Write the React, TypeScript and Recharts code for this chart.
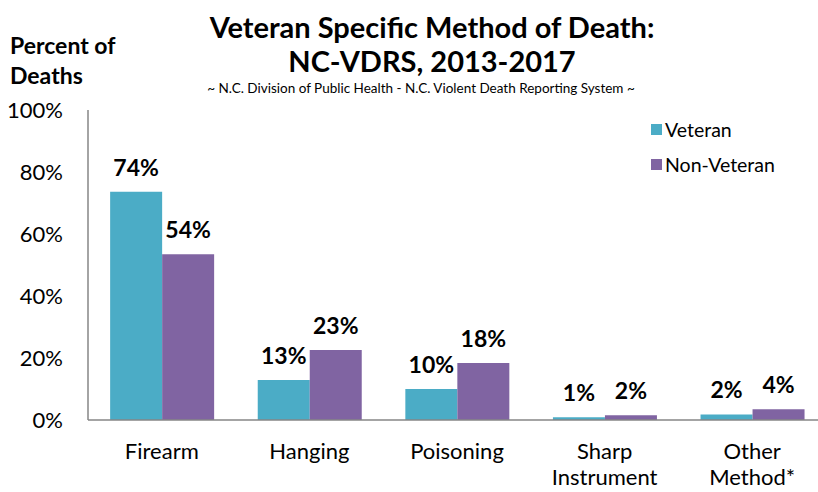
import { BarChart, Bar, XAxis, YAxis, LabelList } from 'recharts';

const methods = ['Firearm', 'Hanging', 'Poisoning', 'Sharp Instrument', 'Other Method*'];
const veteran = [73.6, 12.9, 10.0, 0.9, 1.8];
const nonVeteran = [53.5, 22.6, 18.4, 1.5, 3.5];
const veteranLabels = ['74%', '13%', '10%', '1%', '2%'];
const nonVeteranLabels = ['54%', '23%', '18%', '2%', '4%'];
const yTicks = [0, 20, 40, 60, 80, 100];
const seriesNames = ['Veteran', 'Non-Veteran'];
const seriesColors = ['#4BACC6', '#8064A2'];

const data = methods.map((m, i) => ({
  method: m,
  veteran: veteran[i],
  nonVeteran: nonVeteran[i],
}));

const FONT = 'Lato, "Open Sans", sans-serif';

// x-axis labels wrap onto two lines like the original
const MethodTick = (props: any) => {
  const { x, y, payload } = props;
  const words = payload.value.split(' ');
  return (
    <text x={x} y={y} textAnchor="middle" fill="#000" fontSize={22} fontFamily={FONT}>
      {words.map((w: string, i: number) => (
        <tspan key={i} x={x} dy={i === 0 ? 31 : 26}>{w}</tspan>
      ))}
    </text>
  );
};

const makeLabel = (labels: string[]) => (props: any) => {
  const { x, y, width, index } = props;
  return (
    <text x={x + width / 2} y={y - 16} textAnchor="middle" fontSize={23} fontWeight="bold" fontFamily={FONT} fill="#000">
      {labels[index]}
    </text>
  );
};

export default function App() {
  return (
    <div style={{ position: 'absolute', left: 0, top: 0, width: 818, height: 492, background: '#fff', fontFamily: FONT, overflow: 'hidden' }}>
      <div style={{ position: 'absolute', left: 0, width: 864, top: 10, textAlign: 'center', fontSize: 29, fontWeight: 'bold', lineHeight: '34px' }}>
        Veteran Specific Method of Death:<br />NC-VDRS, 2013-2017
      </div>
      <div style={{ position: 'absolute', left: 0, width: 842, top: 80, textAlign: 'center', fontSize: 13.5 }}>
        ~ N.C. Division of Public Health - N.C. Violent Death Reporting System ~
      </div>
      <div style={{ position: 'absolute', left: 10, top: 30, fontSize: 23, fontWeight: 'bold', lineHeight: '30px' }}>
        Percent of<br />Deaths
      </div>
      <div style={{ position: 'absolute', left: 651, top: 112, fontSize: 19.5 }}>
        {seriesNames.map((name, i) => (
          <div key={name} style={{ display: 'flex', alignItems: 'center', height: 35 }}>
            <span style={{ width: 11, height: 11, background: seriesColors[i], marginRight: 3, display: 'inline-block' }} />
            <span>{name}</span>
          </div>
        ))}
      </div>
      <div style={{ position: 'absolute', left: 0, top: 0 }}>
        <BarChart
          width={818}
          height={492}
          data={data}
          margin={{ top: 110, right: -8, left: 0, bottom: 0 }}
          barCategoryGap="15%"
          barGap={0}
        >
          <XAxis
            dataKey="method"
            height={72}
            tick={<MethodTick />}
            tickLine={false}
            axisLine={{ stroke: '#868686', strokeWidth: 1.5 }}
            interval={0}
          />
          <YAxis
            width={88}
            domain={[0, 100]}
            ticks={yTicks}
            tickFormatter={(v) => `${v}%`}
            tickLine={false}
            tickMargin={19}
            axisLine={{ stroke: '#868686', strokeWidth: 1.5 }}
            tick={{ fill: '#000', fontSize: 22, fontFamily: FONT }}
          />
          <Bar dataKey="veteran" name={seriesNames[0]} fill={seriesColors[0]} isAnimationActive={false}>
            <LabelList dataKey="veteran" content={makeLabel(veteranLabels)} />
          </Bar>
          <Bar dataKey="nonVeteran" name={seriesNames[1]} fill={seriesColors[1]} isAnimationActive={false}>
            <LabelList dataKey="nonVeteran" content={makeLabel(nonVeteranLabels)} />
          </Bar>
        </BarChart>
      </div>
    </div>
  );
}
